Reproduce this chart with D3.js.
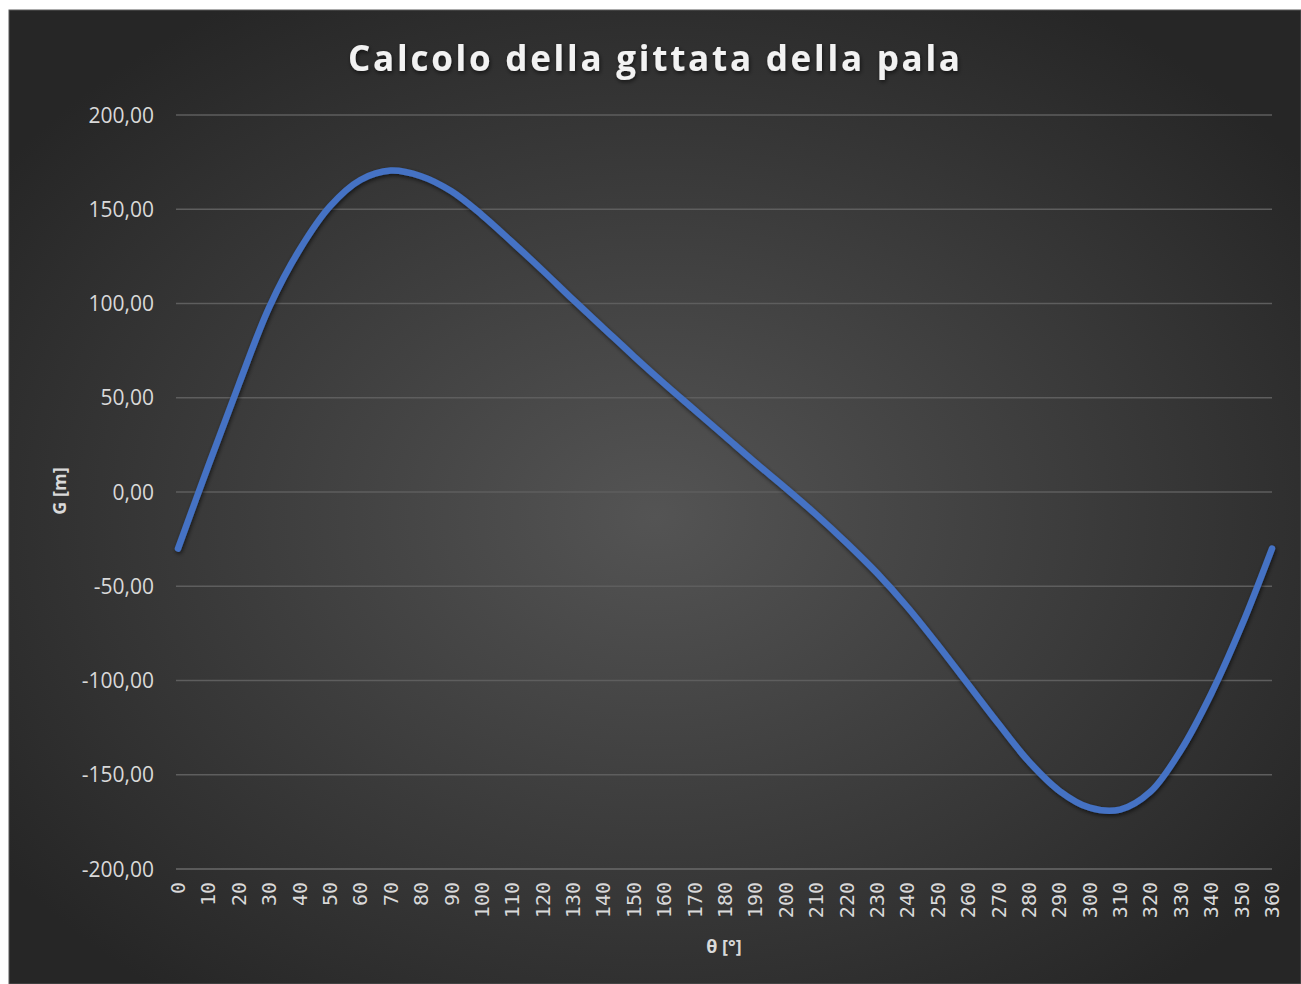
<!DOCTYPE html>
<html>
<head>
<meta charset="utf-8">
<script src="https://cdn.jsdelivr.net/npm/d3@7"></script>
<style>
  body { margin: 0; background: #ffffff; }
  svg { display: block; }
</style>
</head>
<body>
<script>
// Angle of the blade (degrees) and the throw distance G [m]
const theta = [0, 10, 20, 30, 40, 50, 60, 70, 80, 90, 100, 110, 120, 130, 140, 150, 160, 170, 180,
               190, 200, 210, 220, 230, 240, 250, 260, 270, 280, 290, 300, 310, 320, 330, 340, 350, 360]
const gittata = [-30, 14, 57, 98, 128.5, 151.5, 165.5, 170.5, 167.5, 159.5, 147, 132.5, 117.5, 102, 87, 72, 57.5, 43.5, 29.5,
                 15.5, 2, -12, -27, -43, -61, -81, -102, -123, -143, -158.5, -167.5, -168.5, -159, -137, -107, -71, -30]

const yTicks = [200, 150, 100, 50, 0, -50, -100, -150, -200]
const xTicks = d3.range(0, 361, 10)

const title = "Calcolo della gittata della pala"
const yTitle = "G [m]"
const xTitle = "θ [°]"

const w = 1301
const h = 984

const svg = d3.select("body")
              .append("svg")
              .attr("width", w)
              .attr("height", h)

const defs = svg.append("defs")

// Dark radial background like the Excel chart style
const grad = defs.append("radialGradient")
                 .attr("id", "bg")
                 .attr("cx", "50%")
                 .attr("cy", "52%")
                 .attr("r", "62%")
grad.append("stop").attr("offset", "0%").attr("stop-color", "#545454")
grad.append("stop").attr("offset", "100%").attr("stop-color", "#262626")

const shadow = defs.append("filter")
                   .attr("id", "shadow")
                   .attr("x", "-10%").attr("y", "-10%")
                   .attr("width", "120%").attr("height", "120%")
shadow.append("feDropShadow")
      .attr("dx", 1).attr("dy", 2)
      .attr("stdDeviation", 2)
      .attr("flood-color", "#000")
      .attr("flood-opacity", 0.6)

svg.append("rect")
   .attr("x", 9)
   .attr("y", 10)
   .attr("width", w - 9)
   .attr("height", h - 10)
   .attr("fill", "url(#bg)")
   .attr("stroke", "#595959")
   .attr("stroke-width", 1)

const x = d3.scaleLinear().domain([0, 360]).range([178, 1272])
const y = d3.scaleLinear().domain([-200, 200]).range([869, 115])

// Italian number format: comma decimals, plain hyphen minus
const itLocale = d3.formatLocale({decimal: ",", thousands: ".", grouping: [3], currency: ["", " €"], minus: "-"})
const fmt = itLocale.format(".2f")

// Horizontal gridlines
svg.append("g")
   .selectAll("line")
   .data(yTicks)
   .enter()
   .append("line")
   .attr("x1", 176)
   .attr("x2", 1272)
   .attr("y1", d => y(d))
   .attr("y2", d => y(d))
   .attr("stroke", d => d === -200 ? "#6a6a6a" : "#5e5e5e")
   .attr("stroke-width", 1.5)

// Y tick labels
svg.append("g")
   .selectAll("text")
   .data(yTicks)
   .enter()
   .append("text")
   .attr("x", 154)
   .attr("y", d => y(d))
   .attr("dy", "0.36em")
   .attr("text-anchor", "end")
   .attr("font-family", "'Open Sans', sans-serif")
   .attr("font-size", 21)
   .attr("fill", "#d9d9d9")
   .text(d => fmt(d))

// X tick labels, rotated
svg.append("g")
   .selectAll("text")
   .data(xTicks)
   .enter()
   .append("text")
   .attr("transform", d => `translate(${x(d)}, 882) rotate(-90)`)
   .attr("dy", "0.35em")
   .attr("text-anchor", "end")
   .attr("font-family", "'DejaVu Sans Mono', monospace")
   .attr("font-size", 20)
   .attr("fill", "#d9d9d9")
   .text(d => d)

// The curve
const line = d3.line()
               .x((d, i) => x(theta[i]))
               .y(d => y(d))
               .curve(d3.curveCatmullRom)

svg.append("path")
   .datum(gittata)
   .attr("d", line)
   .attr("fill", "none")
   .attr("stroke", "#4472c4")
   .attr("stroke-width", 6.5)
   .attr("stroke-linecap", "round")
   .attr("stroke-linejoin", "round")
   .attr("filter", "url(#shadow)")

// Title
svg.append("text")
   .attr("x", 654)
   .attr("y", 71)
   .attr("text-anchor", "middle")
   .attr("font-family", "'Open Sans', sans-serif")
   .attr("font-weight", "bold")
   .attr("font-size", 35)
   .attr("fill", "#f2f2f2")
   .attr("textLength", 612)
   .attr("lengthAdjust", "spacing")
   .attr("filter", "url(#shadow)")
   .text(title)

// Axis titles
svg.append("text")
   .attr("transform", "translate(66, 491) rotate(-90)")
   .attr("text-anchor", "middle")
   .attr("font-family", "'Open Sans', sans-serif")
   .attr("font-weight", "bold")
   .attr("font-size", 18)
   .attr("fill", "#d9d9d9")
   .text(yTitle)

svg.append("text")
   .attr("x", 724)
   .attr("y", 953)
   .attr("text-anchor", "middle")
   .attr("font-family", "'Open Sans', sans-serif")
   .attr("font-weight", "bold")
   .attr("font-size", 18)
   .attr("fill", "#d9d9d9")
   .text(xTitle)
</script>
</body>
</html>
